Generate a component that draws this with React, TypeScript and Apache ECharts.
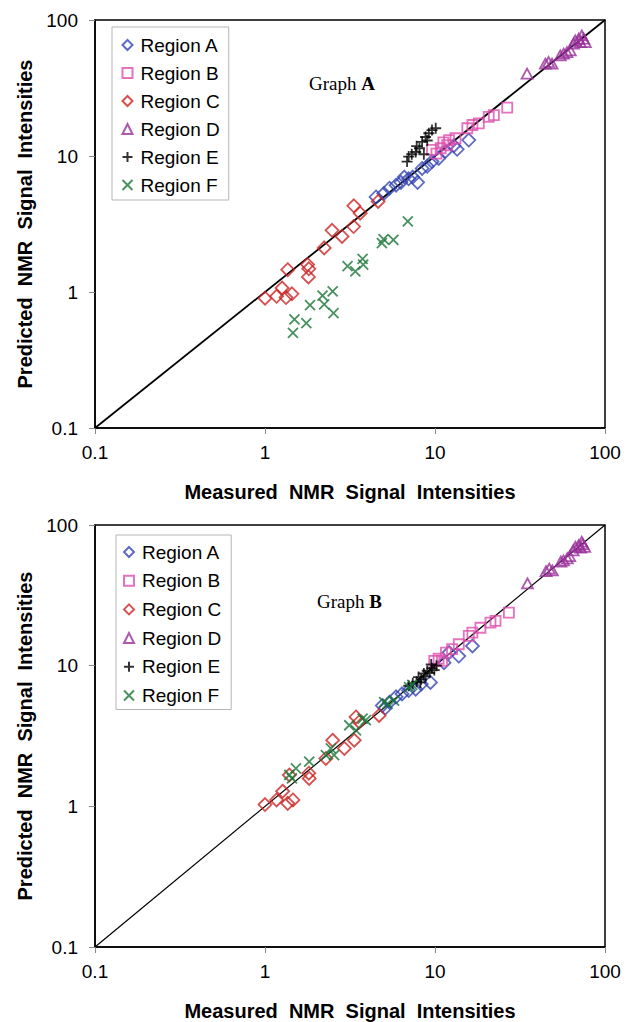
import React, { useEffect, useRef } from "react";
import * as echarts from "echarts";

// ---------- Data (Graph A) ----------
const A_REGION_A_X = [4.5, 5.0, 5.4, 5.9, 6.3, 6.6, 7.0, 7.4, 7.9, 8.4, 9.0, 9.6, 10.5, 11.5, 12.9, 13.5, 15.8];
const A_REGION_A_Y = [5.0, 5.3, 5.8, 6.1, 6.4, 7.0, 6.8, 7.0, 6.4, 8.1, 8.4, 9.1, 9.6, 10.8, 11.9, 11.2, 13.1];
const A_REGION_B_X = [9.6, 10.2, 10.8, 11.2, 11.8, 12.1, 13.2, 15.5, 16.6, 18.1, 20.7, 22.2, 26.6];
const A_REGION_B_Y = [11.1, 10.4, 11.4, 12.6, 12.0, 13.1, 13.5, 16.0, 16.9, 17.4, 19.4, 20.0, 22.7];
const A_REGION_C_X = [1.0, 1.17, 1.26, 1.33, 1.44, 1.36, 1.78, 1.81, 1.8, 2.23, 2.48, 2.84, 3.32, 3.33, 3.63, 4.63];
const A_REGION_C_Y = [0.9, 0.93, 1.07, 0.91, 0.97, 1.46, 1.59, 1.48, 1.29, 2.11, 2.84, 2.56, 3.03, 4.3, 3.8, 4.63];
const A_REGION_D_X = [34.8, 44.6, 46.6, 48.8, 54.6, 57.1, 59.7, 62.5, 65.3, 66.8, 70.0, 71.6, 74.8, 76.6, 73.1];
const A_REGION_D_Y = [40.3, 47.8, 49.1, 47.8, 54.9, 56.5, 58.0, 59.8, 67.0, 70.8, 72.8, 68.8, 72.8, 68.8, 76.9];
const A_REGION_E_X = [6.85, 7.0, 7.3, 7.7, 8.1, 8.4, 8.6, 8.8, 9.2, 9.6, 10.1, 7.8, 9.0];
const A_REGION_E_Y = [9.1, 9.9, 10.3, 10.7, 11.4, 12.7, 10.3, 13.8, 14.7, 15.5, 16.0, 11.8, 13.0];
const A_REGION_F_X = [1.46, 1.49, 1.75, 1.84, 2.18, 2.23, 2.5, 2.53, 3.06, 3.4, 3.75, 3.78, 4.87, 4.98, 5.69, 6.92];
const A_REGION_F_Y = [0.5, 0.63, 0.59, 0.8, 0.94, 0.81, 1.01, 0.7, 1.55, 1.42, 1.75, 1.59, 2.29, 2.45, 2.42, 3.3];

// ---------- Data (Graph B) ----------
const B_REGION_A_X = [4.9, 5.1, 5.4, 5.9, 6.4, 7.0, 7.7, 8.3, 9.4, 11.3, 12.1, 13.8, 16.6];
const B_REGION_A_Y = [5.2, 5.0, 5.5, 6.0, 6.3, 6.65, 6.8, 7.4, 7.6, 10.5, 12.4, 11.7, 13.8];
const B_REGION_B_X = [9.9, 10.5, 11.0, 11.6, 12.6, 13.8, 15.8, 16.6, 18.5, 21.2, 22.7, 27.2];
const B_REGION_B_Y = [10.8, 11.2, 10.8, 12.4, 13.1, 14.2, 16.3, 17.2, 18.6, 20.2, 20.8, 23.8];
const B_REGION_C_X = [1.0, 1.17, 1.27, 1.36, 1.46, 1.39, 1.82, 1.81, 2.28, 2.5, 2.93, 3.35, 3.43, 3.58, 4.69];
const B_REGION_C_Y = [1.03, 1.11, 1.28, 1.05, 1.11, 1.67, 1.58, 1.72, 2.19, 2.95, 2.58, 2.95, 4.32, 3.98, 4.43];
const B_REGION_D_X = [35.0, 45.0, 47.0, 49.0, 55.0, 57.0, 60.0, 62.0, 65.0, 67.0, 70.0, 72.0, 74.0, 76.0, 73.0];
const B_REGION_D_Y = [38.5, 47.0, 49.0, 47.5, 55.0, 56.0, 58.0, 60.0, 66.0, 70.0, 72.0, 69.0, 73.0, 70.0, 76.0];
const B_REGION_E_X = [7.0, 7.4, 7.8, 8.0, 8.3, 8.6, 8.8, 9.0, 9.3, 9.6, 9.9, 10.2, 8.2, 9.5];
const B_REGION_E_Y = [7.2, 7.5, 7.7, 8.3, 8.0, 8.8, 8.4, 9.2, 8.9, 9.6, 9.3, 10.0, 7.6, 10.2];
const B_REGION_F_X = [1.39, 1.44, 1.52, 1.82, 2.28, 2.44, 2.55, 3.13, 3.43, 3.75, 3.92, 5.02, 5.25, 5.75, 7.04, 7.35];
const B_REGION_F_Y = [1.67, 1.58, 1.86, 2.08, 2.31, 2.58, 2.31, 3.77, 3.47, 4.2, 4.1, 5.5, 5.36, 5.65, 7.03, 7.3];

// identity line
const LINE_X = [0.1, 100];
const LINE_Y = [0.1, 100];

const REGION_NAMES = ["Region A", "Region B", "Region C", "Region D", "Region E", "Region F"];
const TICK_LABELS = ["0.1", "1", "10", "100"];

const SANS = "Liberation Sans, Arial, Helvetica, sans-serif";
const SERIF = "Liberation Serif, Times New Roman, serif";

const STYLES = [
  { symbol: "diamond", size: [13, 13], color: "#3446b4" },
  { symbol: "rect", size: [10, 10], color: "#dd4fae" },
  { symbol: "diamond", size: [13, 13], color: "#cc2424" },
  { symbol: "triangle", size: [11, 10], color: "#98309a" },
  { symbol: "path://M0,5L10,5M5,0L5,10", size: [11, 11], color: "#000000" },
  { symbol: "path://M0,0L10,10M0,10L10,0", size: [10, 10], color: "#1a7637" },
];

const pairs = (xs: number[], ys: number[]) => xs.map((x, i) => [x, ys[i]]);

function regionSeries(gi: number, data: number[][][]) {
  return data.map((d, k) => ({
    type: "scatter",
    name: REGION_NAMES[k],
    xAxisIndex: gi,
    yAxisIndex: gi,
    data: d,
    symbol: STYLES[k].symbol,
    symbolSize: STYLES[k].size,
    silent: true,
    z: 3,
    itemStyle: { color: "rgba(0,0,0,0)", borderColor: STYLES[k].color, borderWidth: 1.8 },
    emphasis: { disabled: true },
  }));
}

function fmt(v: number) {
  const idx = Math.round(Math.log10(v)) + 1;
  return TICK_LABELS[idx] ?? String(v);
}

function xAxis(gi: number) {
  return {
    type: "log",
    logBase: 10,
    gridIndex: gi,
    min: 0.1,
    max: 100,
    name: "Measured  NMR  Signal  Intensities",
    nameLocation: "middle",
    nameGap: 54,
    nameTextStyle: { fontFamily: SANS, fontSize: 20, fontWeight: "bold", color: "#000" },
    axisLine: { show: true, lineStyle: { color: "#000", width: 1.5 } },
    axisTick: { show: true, length: 6, inside: false, lineStyle: { color: "#888", width: 1 } },
    minorTick: { show: false },
    splitLine: { show: false },
    axisLabel: { formatter: fmt, fontFamily: SANS, fontSize: 19, color: "#000", margin: 15 },
  };
}

function yAxis(gi: number) {
  return {
    type: "log",
    logBase: 10,
    gridIndex: gi,
    min: 0.1,
    max: 100,
    name: "Predicted  NMR  Signal  Intensities",
    nameLocation: "middle",
    nameRotate: 90,
    nameGap: 59,
    nameTextStyle: { fontFamily: SANS, fontSize: 20, fontWeight: "bold", color: "#000" },
    axisLine: { show: true, lineStyle: { color: "#000", width: 1.5 } },
    axisTick: { show: true, length: 6, inside: false, lineStyle: { color: "#888", width: 1 } },
    minorTick: { show: false },
    splitLine: { show: false },
    axisLabel: { formatter: fmt, fontFamily: SANS, fontSize: 19, color: "#000", margin: 17 },
  };
}

function legend(left: number, top: number, pad: number[], gap: number) {
  return {
    show: true,
    orient: "vertical",
    left,
    top,
    data: REGION_NAMES,
    selectedMode: false,
    itemWidth: 10,
    itemHeight: 10,
    itemGap: gap,
    padding: pad,
    backgroundColor: "#fff",
    borderColor: "#b5b5b5",
    borderWidth: 1,
    borderRadius: 0,
    textStyle: { fontFamily: SANS, fontSize: 19, color: "#000", lineHeight: 20, padding: [0, 0, 0, 3] },
  };
}

export default function App() {
  const ref = useRef<HTMLDivElement>(null);
  useEffect(() => {
    if (!ref.current) return;
    const chart = echarts.init(ref.current, null, { renderer: "svg" });
    const aData = [
      pairs(A_REGION_A_X, A_REGION_A_Y),
      pairs(A_REGION_B_X, A_REGION_B_Y),
      pairs(A_REGION_C_X, A_REGION_C_Y),
      pairs(A_REGION_D_X, A_REGION_D_Y),
      pairs(A_REGION_E_X, A_REGION_E_Y),
      pairs(A_REGION_F_X, A_REGION_F_Y),
    ];
    const bData = [
      pairs(B_REGION_A_X, B_REGION_A_Y),
      pairs(B_REGION_B_X, B_REGION_B_Y),
      pairs(B_REGION_C_X, B_REGION_C_Y),
      pairs(B_REGION_D_X, B_REGION_D_Y),
      pairs(B_REGION_E_X, B_REGION_E_Y),
      pairs(B_REGION_F_X, B_REGION_F_Y),
    ];
    const lineData = pairs(LINE_X, LINE_Y);
    chart.setOption({
      animation: false,
      backgroundColor: "#fff",
      grid: [
        { left: 95, top: 20, width: 510, height: 408, show: true, borderColor: "#000", borderWidth: 1.5, containLabel: false },
        { left: 95, top: 525, width: 510, height: 425, show: true, borderColor: "#000", borderWidth: 1.5, containLabel: false },
      ],
      xAxis: [xAxis(0), xAxis(1)],
      yAxis: [yAxis(0), yAxis(1)],
      legend: [legend(112, 27, [8, 9, 5, 9.5], 8), legend(116, 535, [7, 10, 4, 7], 8.7)],
      graphic: [
        {
          type: "text",
          x: 309,
          y: 83,
          style: {
            text: "{n|Graph }{b|A}",
            verticalAlign: "middle",
            rich: {
              n: { fontFamily: SERIF, fontSize: 19, fill: "#000" },
              b: { fontFamily: SERIF, fontSize: 19, fontWeight: "bold", fill: "#000" },
            },
          },
        },
        {
          type: "text",
          x: 317,
          y: 601,
          style: {
            text: "{n|Graph }{b|B}",
            verticalAlign: "middle",
            rich: {
              n: { fontFamily: SERIF, fontSize: 19, fill: "#000" },
              b: { fontFamily: SERIF, fontSize: 19, fontWeight: "bold", fill: "#000" },
            },
          },
        },
      ],
      series: [
        {
          type: "line",
          xAxisIndex: 0,
          yAxisIndex: 0,
          data: lineData,
          symbol: "none",
          silent: true,
          z: 2,
          lineStyle: { color: "#000", width: 1.8 },
        },
        {
          type: "line",
          xAxisIndex: 1,
          yAxisIndex: 1,
          data: lineData,
          symbol: "none",
          silent: true,
          z: 2,
          lineStyle: { color: "#000", width: 1.2 },
        },
        ...regionSeries(0, aData),
        ...regionSeries(1, bData),
      ],
    });
    return () => chart.dispose();
  }, []);
  return (
    <div
      ref={ref}
      style={{ position: "absolute", left: 0, top: 0, width: 626, height: 1022, background: "#fff" }}
    />
  );
}
